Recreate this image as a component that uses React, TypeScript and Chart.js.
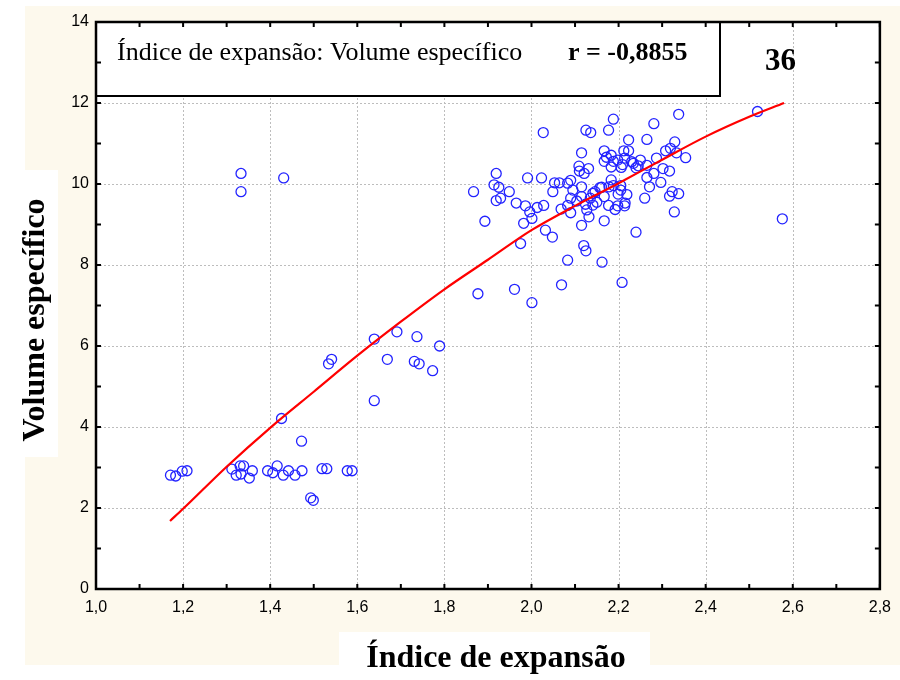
import React, { useEffect, useRef } from 'react';
import { Chart, registerables } from 'chart.js';

Chart.register(...registerables);

// ---- Data ----
const expansionIndex: number[] = [
  1.171, 1.183, 1.198, 1.209, 1.312, 1.322, 1.331, 1.339, 1.333, 1.352,
  1.359, 1.394, 1.406, 1.416, 1.430, 1.442, 1.457, 1.473, 1.472, 1.426,
  1.493, 1.499, 1.519, 1.530, 1.577, 1.588, 1.333, 1.333, 1.431, 1.534,
  1.541, 1.639, 1.639, 1.669, 1.691, 1.737, 1.731, 1.742, 1.773, 1.789,
  1.867, 1.893, 1.919, 1.914, 1.925, 1.929, 1.919, 1.949, 1.965, 1.986,
  1.996, 1.982, 2.001, 2.013, 2.028, 1.991, 2.023, 2.027, 1.975, 2.032,
  2.048, 1.877, 1.961, 2.001, 2.069, 2.083, 2.162, 2.208, 2.240, 2.120,
  2.125, 2.115, 2.167, 2.049, 2.053, 2.064, 2.083, 2.090, 2.068, 2.083,
  2.090, 2.090, 2.104, 2.115, 2.115, 2.127, 2.132, 2.141, 2.141, 2.146,
  2.161, 2.167, 2.177, 2.183, 2.188, 2.199, 2.205, 2.198, 2.192, 2.214,
  2.219, 2.215, 2.109, 2.110, 2.121, 2.131, 2.115, 2.125, 2.136, 2.177,
  2.188, 2.167, 2.167, 2.172, 2.183, 2.188, 2.183, 2.198, 2.206, 2.212,
  2.223, 2.214, 2.209, 2.223, 2.234, 2.240, 2.250, 2.265, 2.281, 2.265,
  2.265, 2.281, 2.287, 2.271, 2.260, 2.297, 2.302, 2.317, 2.308, 2.319,
  2.329, 2.333, 2.354, 2.338, 2.317, 2.323, 2.338, 2.328, 2.178, 2.157,
  2.124, 2.519, 2.576, 2.135, 2.150, 2.205, 2.230, 2.245, 2.095,
];
const specificVolume: number[] = [
  2.81, 2.79, 2.91, 2.92, 2.96, 2.81, 3.04, 3.04, 2.84, 2.74,
  2.92, 2.92, 2.87, 3.04, 2.81, 2.92, 2.81, 2.92, 3.65, 4.21,
  2.25, 2.19, 2.97, 2.97, 2.92, 2.92, 10.26, 9.81, 10.15, 5.56,
  5.67, 4.65, 6.17, 5.67, 6.35, 6.23, 5.62, 5.56, 5.39, 6.00,
  9.81, 9.08, 10.26, 9.98, 9.92, 9.65, 9.59, 9.81, 9.53, 9.46,
  9.31, 9.03, 9.15, 9.42, 9.47, 10.15, 10.15, 11.27, 8.53, 8.86,
  8.69, 7.29, 7.40, 7.07, 7.51, 8.12, 8.07, 7.57, 8.81, 8.48,
  8.35, 8.98, 9.09, 9.81, 10.03, 10.03, 10.02, 10.09, 9.38, 9.47,
  9.29, 9.65, 9.58, 9.69, 9.93, 9.36, 9.19, 9.48, 9.77, 9.81,
  9.92, 9.69, 9.47, 10.10, 9.96, 9.75, 9.96, 9.46, 9.37, 9.46,
  9.74, 9.53, 10.44, 10.32, 10.26, 10.38, 10.77, 11.33, 11.27, 11.33,
  11.60, 10.82, 10.56, 10.66, 10.71, 10.56, 10.42, 10.59, 10.41, 10.82,
  10.82, 10.64, 10.48, 11.09, 10.51, 10.40, 10.59, 11.10, 11.49, 10.46,
  10.16, 10.26, 10.64, 9.93, 9.65, 10.04, 10.38, 10.32, 10.82, 10.88,
  11.04, 10.77, 10.65, 11.72, 9.70, 9.81, 9.76, 9.31, 9.93, 9.91,
  9.50, 11.79, 9.14, 9.65, 9.55, 9.85, 10.55, 10.45, 9.85,
];

// Fitted curve (red)
const fitX: number[] = [1.17, 1.2, 1.3, 1.4, 1.5, 1.6, 1.7, 1.8, 1.9, 2.0, 2.1, 2.2, 2.3, 2.4, 2.5, 2.58];
const fitY: number[] = [1.68, 1.98, 3.02, 3.98, 4.87, 5.76, 6.60, 7.40, 8.13, 8.86, 9.46, 10.02, 10.60, 11.17, 11.66, 12.0];

const xTickMin = 1.0;
const xTickMax = 2.8;
const xTickStep = 0.2;
const xMinorStep = 0.1;
const yTickMin = 0;
const yTickMax = 14;
const yTickStep = 2;
const yMinorStep = 1;

const legendLabel = 'Índice de expansão: Volume específico';
const legendR = 'r = -0,8855';
const cornerLabel = '36';
const xTitle = 'Índice de expansão';
const yTitle = 'Volume específico';

const SERIF = '"Liberation Serif", "Times New Roman", serif';
const SANS = '"Liberation Sans", Arial, sans-serif';

const decorPlugin = {
  id: 'decor',
  beforeDraw(chart: any) {
    const ctx = chart.ctx as CanvasRenderingContext2D;
    const { left, top, right, bottom } = chart.chartArea;
    const xs = chart.scales.x;
    const ys = chart.scales.y;
    ctx.save();
    ctx.fillStyle = '#ffffff';
    ctx.fillRect(0, 0, chart.width, chart.height);
    ctx.fillStyle = '#fdf9ed';
    ctx.fillRect(25, 6, 875, 659);
    ctx.fillStyle = '#ffffff';
    ctx.fillRect(0, 170, 58, 287);
    ctx.fillRect(339, 632, 311, 48);
    ctx.fillRect(left, top, right - left, bottom - top);
    ctx.strokeStyle = '#bdbdbd';
    ctx.lineWidth = 1;
    ctx.setLineDash([2, 2]);
    xs.ticks.forEach((t: any) => {
      const px = Math.round(xs.getPixelForValue(t.value)) + 0.5;
      ctx.beginPath();
      ctx.moveTo(px, top);
      ctx.lineTo(px, bottom);
      ctx.stroke();
    });
    ys.ticks.forEach((t: any) => {
      const py = Math.round(ys.getPixelForValue(t.value)) + 0.5;
      ctx.beginPath();
      ctx.moveTo(left, py);
      ctx.lineTo(right, py);
      ctx.stroke();
    });
    ctx.restore();
  },
  afterDraw(chart: any) {
    const ctx = chart.ctx as CanvasRenderingContext2D;
    const { left, top, right, bottom } = chart.chartArea;
    const xs = chart.scales.x;
    const ys = chart.scales.y;
    ctx.save();
    ctx.setLineDash([]);
    ctx.fillStyle = '#ffffff';
    ctx.fillRect(left, top, 720 - left, 96 - top);
    ctx.strokeStyle = '#000';
    ctx.lineWidth = 2;
    ctx.strokeRect(left, top, 720 - left, 96 - top);
    ctx.lineWidth = 2.5;
    ctx.strokeRect(left, top, right - left, bottom - top);
    ctx.lineWidth = 2;
    const tl = 5;
    const nx = Math.round((xTickMax - xTickMin) / xMinorStep);
    for (let i = 0; i <= nx; i++) {
      const px = xs.getPixelForValue(xTickMin + i * xMinorStep);
      ctx.beginPath();
      ctx.moveTo(px, bottom);
      ctx.lineTo(px, bottom - tl);
      ctx.moveTo(px, top);
      ctx.lineTo(px, top + tl);
      ctx.stroke();
    }
    const ny = Math.round((yTickMax - yTickMin) / yMinorStep);
    for (let i = 0; i <= ny; i++) {
      const py = ys.getPixelForValue(yTickMin + i * yMinorStep);
      ctx.beginPath();
      ctx.moveTo(left, py);
      ctx.lineTo(left + tl, py);
      ctx.moveTo(right, py);
      ctx.lineTo(right - tl, py);
      ctx.stroke();
    }
    ctx.fillStyle = '#000';
    ctx.textBaseline = 'alphabetic';
    ctx.textAlign = 'left';
    ctx.font = `26px ${SERIF}`;
    ctx.fillText(legendLabel, 117, 60);
    ctx.font = `bold 26px ${SERIF}`;
    ctx.fillText(legendR, 568, 60);
    ctx.font = `bold 31px ${SERIF}`;
    ctx.fillText(cornerLabel, 765, 70);
    ctx.font = `bold 32px ${SERIF}`;
    ctx.textAlign = 'center';
    ctx.fillText(xTitle, 496, 667);
    ctx.save();
    ctx.translate(44, 320);
    ctx.rotate(-Math.PI / 2);
    ctx.fillText(yTitle, 0, 0);
    ctx.restore();
    ctx.restore();
  },
};

export default function App() {
  const canvasRef = useRef<HTMLCanvasElement | null>(null);

  useEffect(() => {
    const canvas = canvasRef.current;
    if (!canvas) return;
    const points = expansionIndex.map((x, i) => ({ x, y: specificVolume[i] }));
    const fit = fitX.map((x, i) => ({ x, y: fitY[i] }));
    const chart = new Chart(canvas, {
      type: 'scatter',
      data: {
        datasets: [
          {
            type: 'line',
            data: fit,
            borderColor: '#ff0000',
            borderWidth: 2.2,
            pointRadius: 0,
            fill: false,
            cubicInterpolationMode: 'monotone',
          } as any,
          {
            type: 'scatter',
            data: points,
            pointRadius: 5,
            pointStyle: 'circle',
            borderColor: '#2323ff',
            backgroundColor: 'rgba(0,0,0,0)',
            borderWidth: 1.3,
          } as any,
        ],
      },
      options: {
        responsive: false,
        animation: false,
        devicePixelRatio: 1,
        layout: { padding: { top: 22, right: 17, left: 0, bottom: 0 } },
        plugins: { legend: { display: false }, tooltip: { enabled: false } },
        scales: {
          x: {
            type: 'linear',
            min: xTickMin,
            max: xTickMax,
            afterFit: (s: any) => { s.height = 91; },
            grid: { display: false, drawTicks: false },
            border: { display: false },
            ticks: {
              stepSize: xTickStep,
              padding: 9,
              color: '#000',
              font: { family: SANS, size: 16 },
              callback: (v: any) => Number(v).toFixed(1).replace('.', ','),
            },
          },
          y: {
            type: 'linear',
            min: yTickMin,
            max: yTickMax,
            afterFit: (s: any) => { s.width = 96; },
            grid: { display: false, drawTicks: false },
            border: { display: false },
            ticks: {
              stepSize: yTickStep,
              padding: 7,
              color: '#000',
              font: { family: SANS, size: 16 },
              callback: (v: any) => String(Math.round(Number(v))),
            },
          },
        },
      },
      plugins: [decorPlugin],
    });
    return () => chart.destroy();
  }, []);

  return (
    <canvas
      ref={canvasRef}
      width={900}
      height={680}
      style={{ position: 'absolute', left: 0, top: 0, width: 900, height: 680 }}
    />
  );
}
